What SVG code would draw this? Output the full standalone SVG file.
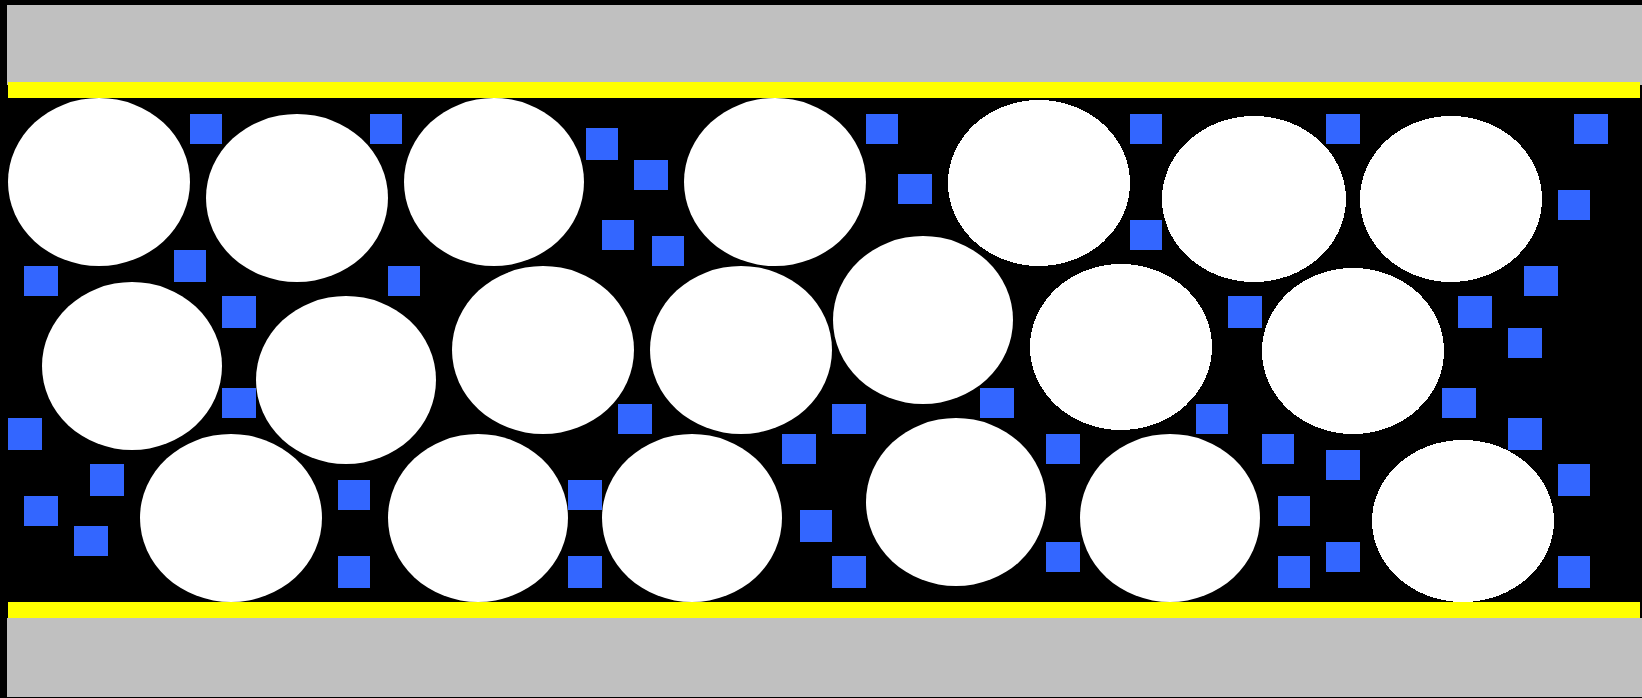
<svg xmlns="http://www.w3.org/2000/svg" width="1642" height="698" viewBox="0 0 1642 698">
<style>
.plate{fill:#c0c0c0}
.film{fill:#ffff00}
.p{fill:#ffffff}
.px{fill:#ffffff;shape-rendering:crispEdges}
.s{fill:#3366ff}
</style>
<rect x="0" y="0" width="1642" height="698" fill="#000000"/>
<g id="top-plate">
<rect class="plate" x="7" y="5" width="1635" height="80"/>
<rect class="film" x="8" y="82" width="1632" height="16"/>
</g>
<g id="bottom-plate">
<rect class="film" x="8" y="602" width="1632" height="16"/>
<rect class="plate" x="7" y="618" width="1635" height="79"/>
</g>
<g id="particles">
<ellipse class="p" cx="99" cy="182" rx="91" ry="84"/>
<ellipse class="p" cx="297" cy="198" rx="91" ry="84"/>
<ellipse class="p" cx="494" cy="182" rx="90" ry="84"/>
<ellipse class="p" cx="775" cy="182" rx="91" ry="84"/>
<ellipse class="px" cx="1039" cy="183" rx="91" ry="83"/>
<ellipse class="px" cx="1254" cy="199" rx="92" ry="83"/>
<ellipse class="px" cx="1451" cy="199" rx="91" ry="83"/>
<ellipse class="p" cx="132" cy="366" rx="90" ry="84"/>
<ellipse class="p" cx="346" cy="380" rx="90" ry="84"/>
<ellipse class="p" cx="543" cy="350" rx="91" ry="84"/>
<ellipse class="p" cx="741" cy="350" rx="91" ry="84"/>
<ellipse class="p" cx="923" cy="320" rx="90" ry="84"/>
<ellipse class="px" cx="1121" cy="347" rx="91" ry="83"/>
<ellipse class="px" cx="1353" cy="351" rx="91" ry="83"/>
<ellipse class="p" cx="231" cy="518" rx="91" ry="84"/>
<ellipse class="p" cx="478" cy="518" rx="90" ry="84"/>
<ellipse class="p" cx="692" cy="518" rx="90" ry="84"/>
<ellipse class="p" cx="956" cy="502" rx="90" ry="84"/>
<ellipse class="p" cx="1170" cy="518" rx="90" ry="84"/>
<ellipse class="px" cx="1463" cy="521" rx="91" ry="81"/>
</g>
<g id="fillers">
<rect class="s" x="190" y="114" width="32" height="30"/>
<rect class="s" x="370" y="114" width="32" height="30"/>
<rect class="s" x="586" y="128" width="32" height="32"/>
<rect class="s" x="634" y="160" width="34" height="30"/>
<rect class="s" x="602" y="220" width="32" height="30"/>
<rect class="s" x="652" y="236" width="32" height="30"/>
<rect class="s" x="866" y="114" width="32" height="30"/>
<rect class="s" x="898" y="174" width="34" height="30"/>
<rect class="s" x="1130" y="114" width="32" height="30"/>
<rect class="s" x="1130" y="220" width="32" height="30"/>
<rect class="s" x="1326" y="114" width="34" height="30"/>
<rect class="s" x="1574" y="114" width="34" height="30"/>
<rect class="s" x="1558" y="190" width="32" height="30"/>
<rect class="s" x="1524" y="266" width="34" height="30"/>
<rect class="s" x="24" y="266" width="34" height="30"/>
<rect class="s" x="174" y="250" width="32" height="32"/>
<rect class="s" x="222" y="296" width="34" height="32"/>
<rect class="s" x="388" y="266" width="32" height="30"/>
<rect class="s" x="222" y="388" width="34" height="30"/>
<rect class="s" x="8" y="418" width="34" height="32"/>
<rect class="s" x="90" y="464" width="34" height="32"/>
<rect class="s" x="24" y="496" width="34" height="30"/>
<rect class="s" x="74" y="526" width="34" height="30"/>
<rect class="s" x="338" y="480" width="32" height="30"/>
<rect class="s" x="338" y="556" width="32" height="32"/>
<rect class="s" x="618" y="404" width="34" height="30"/>
<rect class="s" x="568" y="480" width="34" height="30"/>
<rect class="s" x="568" y="556" width="34" height="32"/>
<rect class="s" x="782" y="434" width="34" height="30"/>
<rect class="s" x="832" y="404" width="34" height="30"/>
<rect class="s" x="800" y="510" width="32" height="32"/>
<rect class="s" x="832" y="556" width="34" height="32"/>
<rect class="s" x="980" y="388" width="34" height="30"/>
<rect class="s" x="1046" y="434" width="34" height="30"/>
<rect class="s" x="1046" y="542" width="34" height="30"/>
<rect class="s" x="1196" y="404" width="32" height="30"/>
<rect class="s" x="1228" y="296" width="34" height="32"/>
<rect class="s" x="1262" y="434" width="32" height="30"/>
<rect class="s" x="1326" y="450" width="34" height="30"/>
<rect class="s" x="1278" y="496" width="32" height="30"/>
<rect class="s" x="1278" y="556" width="32" height="32"/>
<rect class="s" x="1326" y="542" width="34" height="30"/>
<rect class="s" x="1458" y="296" width="34" height="32"/>
<rect class="s" x="1508" y="328" width="34" height="30"/>
<rect class="s" x="1442" y="388" width="34" height="30"/>
<rect class="s" x="1508" y="418" width="34" height="32"/>
<rect class="s" x="1558" y="464" width="32" height="32"/>
<rect class="s" x="1558" y="556" width="32" height="32"/>
</g>
</svg>
